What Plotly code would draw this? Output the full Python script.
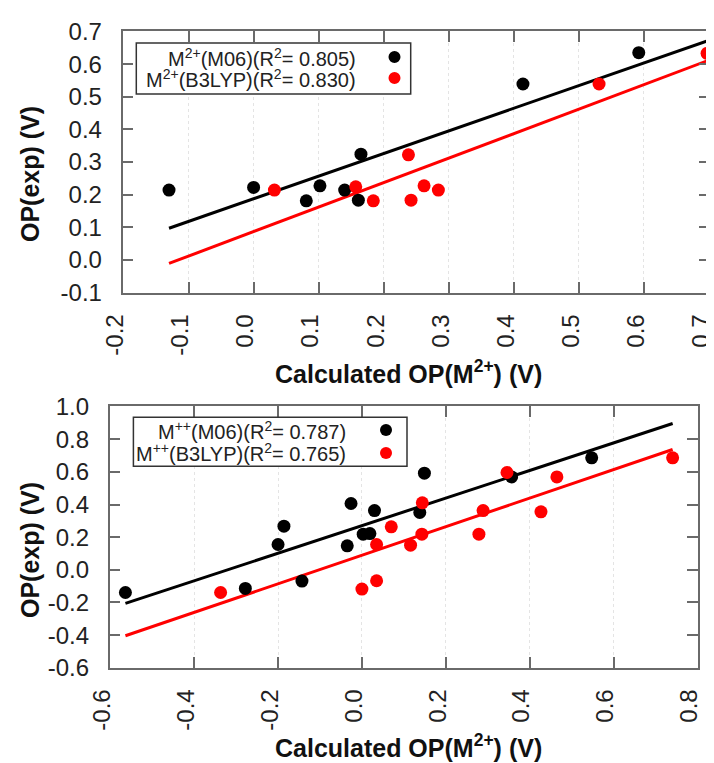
import plotly.graph_objects as go

# ---------------- data ----------------
top_m06_x = [-0.130, 0.000, 0.081, 0.102, 0.140, 0.161, 0.165, 0.414, 0.592]
top_m06_y = [0.214, 0.222, 0.181, 0.227, 0.214, 0.183, 0.324, 0.539, 0.635]
top_b3_x = [0.032, 0.157, 0.184, 0.238, 0.242, 0.262, 0.284, 0.531, 0.697]
top_b3_y = [0.214, 0.224, 0.181, 0.322, 0.183, 0.227, 0.214, 0.539, 0.633]
top_fit_x = [-0.130, 0.697]
top_m06_fit_y = [0.097, 0.671]
top_b3_fit_y = [-0.011, 0.610]

bot_m06_x = [-0.564, -0.278, -0.200, -0.186, -0.143, -0.035, -0.026, 0.003, 0.019, 0.030, 0.138, 0.149, 0.357, 0.548]
bot_m06_y = [-0.139, -0.114, 0.155, 0.267, -0.069, 0.147, 0.406, 0.218, 0.222, 0.363, 0.351, 0.592, 0.569, 0.686]
bot_b3_x = [-0.337, 0.000, 0.035, 0.035, 0.070, 0.116, 0.143, 0.144, 0.279, 0.289, 0.346, 0.427, 0.465, 0.741]
bot_b3_y = [-0.139, -0.118, -0.067, 0.155, 0.263, 0.151, 0.218, 0.410, 0.218, 0.363, 0.596, 0.355, 0.569, 0.686]
bot_fit_x = [-0.564, 0.741]
bot_m06_fit_y = [-0.206, 0.896]
bot_b3_fit_y = [-0.404, 0.737]

top_xtick_vals = [-0.2, -0.1, 0.0, 0.1, 0.2, 0.3, 0.4, 0.5, 0.6, 0.7]
top_xtick_text = ["-0.2", "-0.1", "0.0", "0.1", "0.2", "0.3", "0.4", "0.5", "0.6", "0.7"]
top_ytick_vals = [-0.1, 0.0, 0.1, 0.2, 0.3, 0.4, 0.5, 0.6, 0.7]
top_ytick_text = ["-0.1", "0.0", "0.1", "0.2", "0.3", "0.4", "0.5", "0.6", "0.7"]
bot_xtick_vals = [-0.6, -0.4, -0.2, 0.0, 0.2, 0.4, 0.6, 0.8]
bot_xtick_text = ["-0.6", "-0.4", "-0.2", "0.0", "0.2", "0.4", "0.6", "0.8"]
bot_ytick_vals = [-0.6, -0.4, -0.2, 0.0, 0.2, 0.4, 0.6, 0.8, 1.0]
bot_ytick_text = ["-0.6", "-0.4", "-0.2", "0.0", "0.2", "0.4", "0.6", "0.8", "1.0"]

top_legend = ["M<sup>2+</sup>(M06)(R<sup>2</sup>= 0.805)", "M<sup>2+</sup>(B3LYP)(R<sup>2</sup>= 0.830)"]
bot_legend = ["M<sup>++</sup>(M06)(R<sup>2</sup>= 0.787)", "M<sup>++</sup>(B3LYP)(R<sup>2</sup>= 0.765)"]
x_title = "Calculated OP(M<sup>2+</sup>) (V)"
y_title = "OP(exp) (V)"

# ---------------- styling ----------------
W, H = 714, 763
FONT = "Liberation Sans, Arial, sans-serif"
BLACK = "#000000"
RED = "#ff0000"
FRAME = "#6a6a6a"
EPS = 0.0015
MSIZE = 13


def px(x):
    return x / W


def py(y):
    return 1 - y / H


fig = go.Figure()

# top panel
fig.add_trace(go.Scatter(x=top_fit_x, y=top_m06_fit_y, mode="lines", line=dict(color=BLACK, width=3), xaxis="x", yaxis="y"))
fig.add_trace(go.Scatter(x=top_fit_x, y=top_b3_fit_y, mode="lines", line=dict(color=RED, width=3), xaxis="x", yaxis="y"))
fig.add_trace(go.Scatter(x=top_m06_x, y=top_m06_y, mode="markers", marker=dict(color=BLACK, size=MSIZE), xaxis="x", yaxis="y", cliponaxis=False))
fig.add_trace(go.Scatter(x=top_b3_x, y=top_b3_y, mode="markers", marker=dict(color=RED, size=MSIZE), xaxis="x", yaxis="y", cliponaxis=False))

# bottom panel
fig.add_trace(go.Scatter(x=bot_fit_x, y=bot_m06_fit_y, mode="lines", line=dict(color=BLACK, width=3), xaxis="x2", yaxis="y2"))
fig.add_trace(go.Scatter(x=bot_fit_x, y=bot_b3_fit_y, mode="lines", line=dict(color=RED, width=3), xaxis="x2", yaxis="y2"))
fig.add_trace(go.Scatter(x=bot_m06_x, y=bot_m06_y, mode="markers", marker=dict(color=BLACK, size=MSIZE), xaxis="x2", yaxis="y2"))
fig.add_trace(go.Scatter(x=bot_b3_x, y=bot_b3_y, mode="markers", marker=dict(color=RED, size=MSIZE), xaxis="x2", yaxis="y2"))

common = dict(
    showline=True, mirror="ticks", linecolor=FRAME, linewidth=1.5,
    ticks="inside", ticklen=11, tickwidth=1.5, tickcolor=FRAME,
    tickfont=dict(family=FONT, size=24, color="#222222"),
    zeroline=False, automargin=False,
)
xcommon = dict(common, showgrid=True, gridcolor="#e4e4e4", griddash="dot", gridwidth=1,
               tickangle=-90, ticklabelstandoff=10, ticklabelshift=-8)
ycommon = dict(common, showgrid=False, ticklabelstandoff=14)

fig.update_layout(
    width=W, height=H,
    margin=dict(l=0, r=0, t=0, b=0),
    paper_bgcolor="white", plot_bgcolor="white",
    showlegend=False,
    xaxis=dict(xcommon, domain=[px(114.5), px(702)], range=[-0.2 - EPS, 0.7 + EPS],
               tickvals=top_xtick_vals, ticktext=top_xtick_text, anchor="y"),
    yaxis=dict(ycommon, domain=[py(285), py(23)], range=[-0.1 - EPS, 0.7 + EPS],
               tickvals=top_ytick_vals, ticktext=top_ytick_text, anchor="x"),
    xaxis2=dict(xcommon, domain=[px(101.7), px(690)], range=[-0.6 - EPS, 0.8 + EPS],
                tickvals=bot_xtick_vals, ticktext=bot_xtick_text, anchor="y2"),
    yaxis2=dict(ycommon, domain=[py(660), py(398.3)], range=[-0.6 - EPS, 1.0 + EPS],
                tickvals=bot_ytick_vals, ticktext=bot_ytick_text, anchor="x2"),
)

ann = []
shapes = []
title_font = dict(family=FONT, size=25, color="#111111")
# axis titles
for (cx, cy) in [(400, 364), (400, 738)]:
    ann.append(dict(text="<b>" + x_title + "</b>", x=px(cx), y=py(cy), xref="paper", yref="paper",
                    xanchor="center", yanchor="middle", showarrow=False, font=title_font))
for (cx, cy) in [(22, 166), (22, 542)]:
    ann.append(dict(text="<b>" + y_title + "</b>", x=px(cx), y=py(cy), xref="paper", yref="paper",
                    xanchor="center", yanchor="middle", showarrow=False, font=title_font, textangle=-90))

# legends (text with marker on the right, as in the original)
leg_font = dict(family=FONT, size=20, color="#222222")
legends = [
    dict(box=(128.3, 35, 402.7, 86), text_right=350, mark_x=386.5, rows=(49, 70), labels=top_legend),
    dict(box=(125.4, 409.3, 399, 458.3), text_right=340, mark_x=378, rows=(422, 445), labels=bot_legend),
]
for lg in legends:
    x0, y0, x1, y1 = lg["box"]
    shapes.append(dict(type="rect", xref="paper", yref="paper", x0=px(x0), x1=px(x1), y0=py(y1), y1=py(y0),
                       line=dict(color="#333333", width=1.5), fillcolor="white", layer="above"))
    for ry, lab, col in zip(lg["rows"], lg["labels"], [BLACK, RED]):
        ann.append(dict(text=lab, x=px(lg["text_right"]), y=py(ry), xref="paper", yref="paper",
                        xanchor="right", yanchor="middle", showarrow=False, font=leg_font))
        r = 6
        shapes.append(dict(type="circle", xref="paper", yref="paper",
                           x0=px(lg["mark_x"] - r), x1=px(lg["mark_x"] + r),
                           y0=py(ry + r), y1=py(ry - r),
                           fillcolor=col, line=dict(color=col, width=0), layer="above"))

fig.update_layout(annotations=ann, shapes=shapes)
fig.write_html("out.html")
